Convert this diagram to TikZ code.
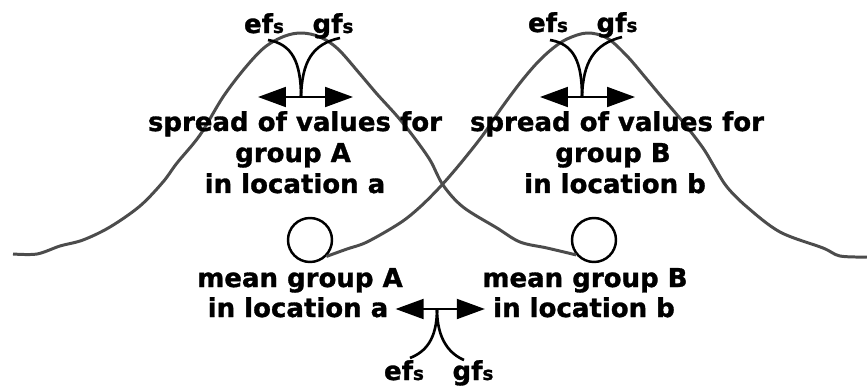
\documentclass[tikz,border=0pt]{standalone}
\usepackage{fontspec}
\setmainfont{DejaVu Sans}[BoldFeatures={FakeBold=1.2}]
\usepackage{tikz}
\usetikzlibrary{arrows.meta, positioning}

\newcommand{\fslabel}[1]{#1f{\fontsize{10.5}{12}\selectfont s}}

\tikzset{
  bell/.style={draw=black!70, line width=1.7pt, line join=round},
  meanpt/.style={circle, draw, line width=1.4pt, minimum size=0.88cm, inner sep=0pt},
  txt/.style={font=\fontsize{14.8}{18}\selectfont\bfseries, inner sep=0pt, anchor=base},
  brace/.style={line width=1.5pt},
  span/.style={line width=1.1pt, {Triangle[length=0.56cm, width=0.4cm]}-{Triangle[length=0.56cm, width=0.4cm]}}
}

\begin{document}
\begin{tikzpicture}[x=0.02cm, y=-0.02cm]
    \useasboundingbox (0,0) rectangle (867,392);

    % means
    \node[meanpt] (cA) at (310,240) {};
    \node[meanpt] (cB) at (594,240) {};

    % distributions
    \draw[bell] plot[smooth, tension=0.55] coordinates {(13,254) (37,254) (60,246) (83,240) (110,227) (140,206) (163,182) (177,163) (200,135) (223,97) (245,68) (265,47) (285,36) (302,33) (320,37) (338,49) (360,74) (377,94) (397,116) (413,136) (430,160) (443,185) (463,207) (497,228) (520,242) (547,248) (cB.-140)};
    \draw[bell] plot[smooth, tension=0.55] coordinates {(cA.-45) (347,249) (367,242) (400,223) (420,207) (440,187) (460,164) (483,135) (500,110) (520,83) (537,63) (552,49) (567,39) (587,33) (607,38) (627,56) (645,77) (660,95) (683,122) (703,148) (715,168) (727,187) (747,207) (780,232) (823,248) (840,256) (867,257)};

    % spread labels
    \node[txt] (sA1) at (295,131) {spread of values for};
    \node[txt] (sA2) at (293,162) {group A};
    \node[txt] (sA3) at (295,193) {in location a};
    \node[txt] (sB1) at (617,131) {spread of values for};
    \node[txt] (sB2) at (613,162) {group B};
    \node[txt] (sB3) at (615,193) {in location b};

    % mean labels
    \node[txt] (mA1) at (300,287) {mean group A};
    \node[txt] (mA2) at (298,317) {in location a};
    \node[txt] (mB1) at (585,287) {mean group B};
    \node[txt] (mB2) at (584,317) {in location b};

    % ef / gf labels
    \node[txt] (efA) at (264,33) {\fslabel{e}};
    \node[txt] (gfA) at (333,33) {\fslabel{g}};
    \node[txt] (efB) at (548,32) {\fslabel{e}};
    \node[txt] (gfB) at (617,32) {\fslabel{g}};
    \node[txt] (efM) at (404,380) {\fslabel{e}};
    \node[txt] (gfM) at (473,380) {\fslabel{g}};

    % spread arrows
    \coordinate (tA) at (301,97);
    \coordinate (tB) at (582,97);
    \coordinate (tM) at (437,309);
    \draw[brace] (268,40) .. controls (292,44) and (301,62) .. (tA);
    \draw[brace] (340,38) .. controls (312,44) and (302,62) .. (tA);
    \draw[span] (258,97) -- (353,97);
    \draw[brace] (550,40) .. controls (574,44) and (582,62) .. (tB);
    \draw[brace] (622,37) .. controls (594,44) and (583,62) .. (tB);
    \draw[span] (540,97) -- (635,97);

    % mean arrow
    \path (mA2.base east) ++(7,-8) coordinate (mL);
    \path (mB2.base west) ++(-8,-8) coordinate (mR);
    \draw[span] (mL) -- (mR);
    \draw[brace] (tM) .. controls (437,340) and (425,352) .. (410,358);
    \draw[brace] (tM) .. controls (437,340) and (450,354) .. (464,360);
\end{tikzpicture}
\end{document}
